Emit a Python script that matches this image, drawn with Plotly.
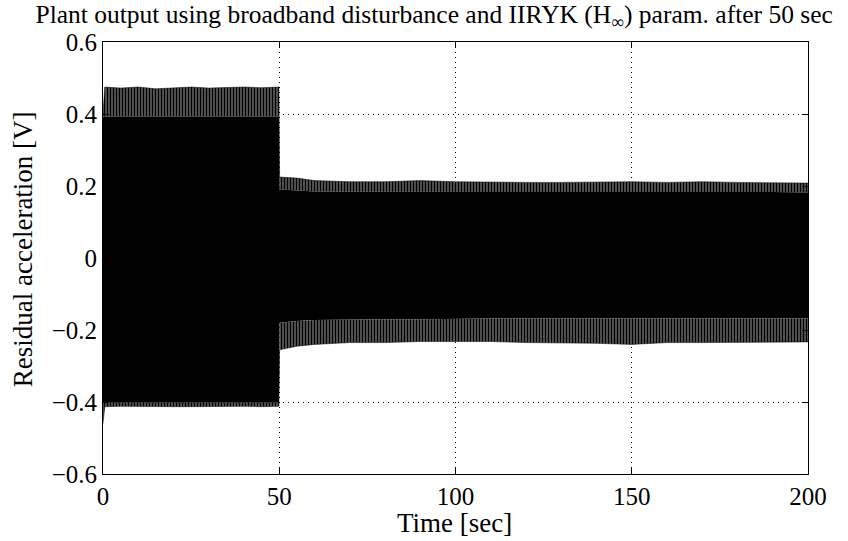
import plotly.graph_objects as go

# Time samples (sec) where the envelope of the dense signal was read
time_s = [0, 0.5, 5, 10, 15, 20, 25, 30, 35, 40, 45, 49.9,
          50.1, 55, 60, 70, 80, 90, 100, 110, 120, 130, 140, 150, 160, 170, 180, 190, 200]
# Upper peaks of the oscillation (tips of the spikes)
upper_peak = [0.40, 0.475, 0.472, 0.475, 0.470, 0.473, 0.475, 0.472, 0.474, 0.475, 0.473, 0.475,
              0.225, 0.222, 0.215, 0.212, 0.212, 0.215, 0.212, 0.210, 0.210, 0.210, 0.212, 0.212, 0.210, 0.212, 0.210, 0.210, 0.208]
# Upper edge of the solid (dense) band
upper_core = [0.39, 0.393, 0.393, 0.393, 0.393, 0.393, 0.393, 0.393, 0.393, 0.393, 0.393, 0.393,
              0.19, 0.188, 0.185, 0.184, 0.184, 0.185, 0.184, 0.183, 0.183, 0.183, 0.184, 0.184, 0.183, 0.183, 0.183, 0.183, 0.182]
# Lower edge of the solid (dense) band
lower_core = [-0.40, -0.402, -0.402, -0.402, -0.402, -0.402, -0.402, -0.402, -0.402, -0.402, -0.402, -0.402,
              -0.18, -0.175, -0.172, -0.170, -0.170, -0.170, -0.168, -0.168, -0.168, -0.168, -0.170, -0.170, -0.168, -0.168, -0.168, -0.168, -0.168]
# Lower peaks of the oscillation
lower_peak = [-0.46, -0.413, -0.412, -0.413, -0.412, -0.413, -0.413, -0.412, -0.413, -0.412, -0.413, -0.412,
              -0.255, -0.245, -0.240, -0.235, -0.235, -0.232, -0.232, -0.232, -0.235, -0.235, -0.237, -0.240, -0.235, -0.235, -0.235, -0.233, -0.233]

x_ticks = [0, 50, 100, 150, 200]
y_ticks = [-0.6, -0.4, -0.2, 0, 0.2, 0.4, 0.6]
y_tick_text = ["\u22120.6", "\u22120.4", "\u22120.2", "0", "0.2", "0.4", "0.6"]

FONT = "Liberation Serif, Times New Roman, serif"
pattern = dict(shape="|", fgcolor="black", bgcolor="white", size=3, solidity=0.8, fillmode="replace")

fig = go.Figure()
fig.add_trace(go.Scatter(x=time_s, y=upper_peak, mode="lines", line=dict(color="black", width=0.5),
                         hoverinfo="skip", showlegend=False))
fig.add_trace(go.Scatter(x=time_s, y=upper_core, mode="lines", line=dict(color="black", width=0),
                         fill="tonexty", fillcolor="rgba(0,0,0,0.7)", fillpattern=pattern,
                         hoverinfo="skip", showlegend=False))
fig.add_trace(go.Scatter(x=time_s, y=lower_core, mode="lines", line=dict(color="black", width=0),
                         fill="tonexty", fillcolor="black", hoverinfo="skip", showlegend=False))
fig.add_trace(go.Scatter(x=time_s, y=lower_peak, mode="lines", line=dict(color="black", width=0.5),
                         fill="tonexty", fillcolor="rgba(0,0,0,0.7)", fillpattern=pattern,
                         hoverinfo="skip", showlegend=False))

fig.update_layout(
    width=848, height=541,
    margin=dict(l=103, r=40, t=42, b=67),
    paper_bgcolor="white", plot_bgcolor="white",
    font=dict(family=FONT, size=24, color="black"),
    title=dict(text="Plant output using broadband disturbance and IIRYK (H<sub>\u221e</sub>) param. after 50 sec",
               x=0.512, xref="container", xanchor="center", y=0.974, yanchor="middle",
               font=dict(family=FONT, size=25.5, color="black")),
    annotations=[
        dict(text="Residual acceleration [V]", textangle=-90, xref="paper", yref="paper",
             x=-0.113, y=0.521, xanchor="center", yanchor="middle", showarrow=False,
             font=dict(family=FONT, size=27, color="black")),
        dict(text="Time [sec]", xref="paper", yref="paper",
             x=0.499, y=-0.113, xanchor="center", yanchor="middle", showarrow=False,
             font=dict(family=FONT, size=27, color="black")),
    ],
)
fig.update_xaxes(range=[0, 200], tickvals=x_ticks, ticktext=[str(v) for v in x_ticks],
                 showline=True, linecolor="black", linewidth=1, mirror="ticks",
                 ticks="inside", ticklen=6, tickcolor="black",
                 showgrid=True, gridcolor="black", gridwidth=1, griddash="1px,4px",
                 zeroline=False, tickfont=dict(family=FONT, size=25))
fig.update_yaxes(range=[-0.6, 0.6], tickvals=y_ticks, ticktext=y_tick_text,
                 showline=True, linecolor="black", linewidth=1, mirror="ticks",
                 ticks="inside", ticklen=6, tickcolor="black",
                 showgrid=True, gridcolor="black", gridwidth=1, griddash="1px,4px",
                 zeroline=False, tickfont=dict(family=FONT, size=25))

fig.write_html("out.html", config={"displayModeBar": False},
               post_script="document.body.style.margin='0';document.body.style.padding='0';")
